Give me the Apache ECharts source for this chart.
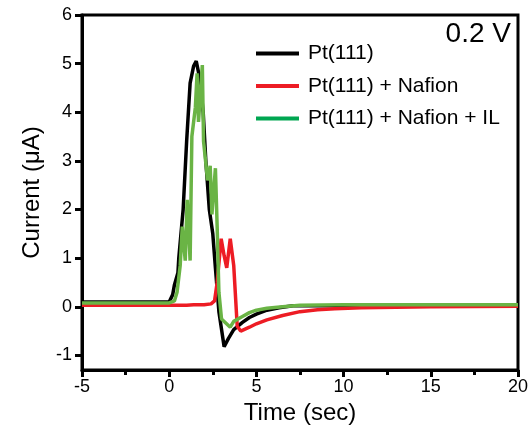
<!DOCTYPE html>
<html><head><meta charset="utf-8">
<script src="https://cdn.jsdelivr.net/npm/echarts@6/dist/echarts.min.js"></script>
<style>html,body{margin:0;padding:0;background:#fff}#c{width:531px;height:431px}</style>
</head><body><div id="c"></div>
<script>
// ---- data ----
const seriesNames = ['Pt(111)', 'Pt(111) + Nafion', 'Pt(111) + Nafion + IL'];
const xTicks = [-5, 0, 5, 10, 15, 20];
const yTicks = [-1, 0, 1, 2, 3, 4, 5, 6];

const blackT = [-5, -2, 0, 0.1, 0.2, 0.3, 0.5, 0.55, 0.8, 1.0, 1.2, 1.4, 1.55, 1.75, 1.95, 2.1, 2.3, 2.5, 2.65, 2.85, 3.15, 3.4, 3.7, 4.2, 4.6, 5.0, 5.6, 6.3, 7.1, 10, 15, 20];
const blackI = [0.1, 0.1, 0.1, 0.12, 0.25, 0.45, 0.7, 1.0, 2.0, 3.4, 4.6, 4.95, 5.05, 4.7, 4.0, 3.0, 2.0, 1.5, 0.8, -0.1, -0.82, -0.65, -0.47, -0.32, -0.22, -0.15, -0.07, -0.02, 0.02, 0.02, 0.02, 0.02];

const redT = [-5, 0, 1.0, 1.4, 1.5, 1.6, 2.0, 2.4, 2.6, 2.75, 2.98, 3.15, 3.3, 3.5, 3.7, 3.9, 4.1, 4.6, 5.0, 5.6, 6.5, 7.5, 8.5, 9.5, 11, 13, 15, 20];
const redI = [0.03, 0.03, 0.03, 0.04, 0.08, 0.04, 0.04, 0.06, 0.12, 0.5, 1.4, 1.05, 0.8, 1.4, 0.85, -0.4, -0.5, -0.42, -0.35, -0.27, -0.18, -0.1, -0.06, -0.04, -0.02, -0.01, 0.0, 0.01];

const greenT = [-5, 0, 0.3, 0.45, 0.63, 0.75, 0.92, 1.03, 1.2, 1.3, 1.5, 1.6, 1.68, 1.9, 1.97, 2.2, 2.35, 2.45, 2.65, 2.75, 2.85, 3.0, 3.5, 3.7, 4.2, 4.6, 5.0, 5.6, 6.5, 7.5, 10, 15, 20];
const greenI = [0.08, 0.08, 0.12, 0.3, 0.85, 1.65, 0.95, 2.2, 0.95, 3.5, 4.1, 4.8, 3.8, 4.97, 3.4, 2.6, 2.9, 1.9, 2.85, 1.65, 0.3, -0.25, -0.42, -0.3, -0.2, -0.12, -0.07, -0.03, 0.0, 0.03, 0.04, 0.04, 0.04];

const annotation = '0.2 V';
// ---- chart ----
const pair = (t, v) => t.map((x, i) => [x, v[i]]);
const lineColors = ['#000000', '#ed1c24', '#6ab445'];
const legendColors = ['#000000', '#ed1c24', '#00a651'];
const FONT = 'Liberation Sans, Arial, sans-serif';

const chart = echarts.init(document.getElementById('c'), null, {renderer: 'canvas'});
chart.setOption({
  animation: false,
  backgroundColor: '#fff',
  title: {
    text: annotation, right: 20, top: 20, padding: 0,
    textStyle: {fontFamily: FONT, fontSize: 28, fontWeight: 'normal', color: '#000'}
  },
  legend: {
    orient: 'vertical', left: 256, top: 43, padding: 0,
    icon: 'rect', itemWidth: 43, itemHeight: 4, itemGap: 11.5,
    textStyle: {fontFamily: FONT, fontSize: 21, color: '#000', lineHeight: 21, padding: [0, 0, 0, 4]},
    data: seriesNames.map((n, i) => ({name: n, itemStyle: {color: legendColors[i]}}))
  },
  grid: {left: 82, right: 13, top: 15, bottom: 61, show: true, borderColor: '#000', borderWidth: 3, backgroundColor: 'transparent'},
  xAxis: {
    type: 'value', min: -5, max: 20, interval: 5,
    name: 'Time (sec)', nameLocation: 'middle', nameGap: 29,
    nameTextStyle: {fontFamily: FONT, fontSize: 24, color: '#000'},
    axisLine: {show: true, onZero: false, lineStyle: {color: '#000', width: 3}},
    axisTick: {show: true, length: 7, lineStyle: {color: '#000', width: 3}, customValues: xTicks},
    minorTick: {show: true, splitNumber: 2, length: 5, lineStyle: {color: '#000', width: 3}},
    axisLabel: {fontFamily: FONT, fontSize: 18, color: '#000', margin: 8, customValues: xTicks},
    splitLine: {show: false}
  },
  yAxis: {
    type: 'value', min: -1.3, max: 6,
    name: 'Current (μA)', nameLocation: 'middle', nameGap: 38,
    nameTextStyle: {fontFamily: FONT, fontSize: 24, color: '#000'},
    axisLine: {show: true, onZero: false, lineStyle: {color: '#000', width: 3}},
    axisTick: {show: true, length: 7, lineStyle: {color: '#000', width: 3}, customValues: yTicks},
    axisLabel: {fontFamily: FONT, fontSize: 18, color: '#000', margin: 10, customValues: yTicks},
    splitLine: {show: false}
  },
  series: [
    {name: seriesNames[0], type: 'line', data: pair(blackT, blackI), showSymbol: false, symbol: 'none', lineStyle: {color: lineColors[0], width: 3.5}, itemStyle: {color: lineColors[0]}, z: 2},
    {name: seriesNames[1], type: 'line', data: pair(redT, redI), showSymbol: false, symbol: 'none', lineStyle: {color: lineColors[1], width: 3.5}, itemStyle: {color: lineColors[1]}, z: 3},
    {name: seriesNames[2], type: 'line', data: pair(greenT, greenI), showSymbol: false, symbol: 'none', lineStyle: {color: lineColors[2], width: 3.5}, itemStyle: {color: lineColors[2]}, z: 4}
  ]
});
</script></body></html>
